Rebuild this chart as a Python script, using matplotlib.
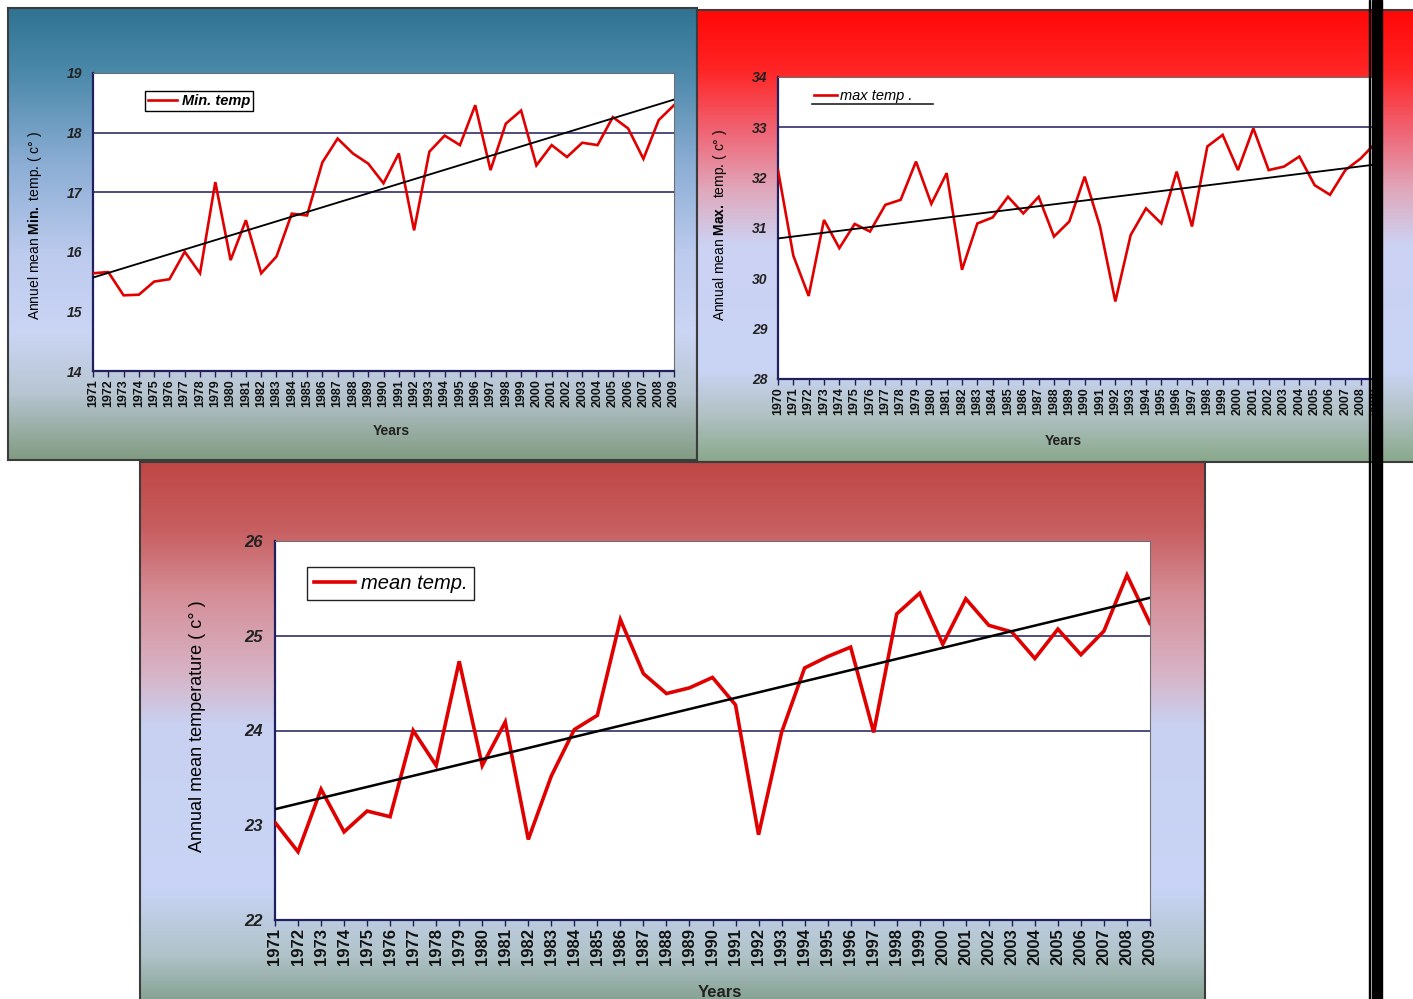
import numpy as np
import matplotlib.pyplot as plt
from matplotlib.colors import LinearSegmentedColormap
from matplotlib.patches import Rectangle

plt.rcParams['font.family'] = ['Liberation Sans', 'DejaVu Sans']
plt.rcParams['mathtext.fontset'] = 'custom'
plt.rcParams['mathtext.rm'] = 'Liberation Sans'
plt.rcParams['mathtext.bf'] = 'Liberation Sans:bold'

W, H = 1413, 999

# annual mean minimum temperature
years_min = np.arange(1971, 2010)
min_temp = [15.64, 15.66, 15.27, 15.28, 15.50, 15.54, 16.00, 15.64, 17.17, 15.86,
            16.53, 15.64, 15.92, 16.64, 16.61, 17.50, 17.90, 17.65, 17.48, 17.15,
            17.65, 16.36, 17.68, 17.95, 17.79, 18.46, 17.37, 18.15, 18.37, 17.45,
            17.79, 17.59, 17.83, 17.79, 18.26, 18.07, 17.56, 18.21, 18.46]

# annual mean maximum temperature
years_max = np.arange(1970, 2010)
max_temp = [32.15, 30.45, 29.65, 31.16, 30.60, 31.08, 30.93, 31.46, 31.56, 32.32,
            31.48, 32.09, 30.17, 31.09, 31.21, 31.62, 31.29, 31.62, 30.83, 31.13,
            32.02, 31.03, 29.54, 30.86, 31.39, 31.09, 32.12, 31.03, 32.62, 32.85,
            32.15, 32.98, 32.15, 32.22, 32.42, 31.85, 31.66, 32.15, 32.38, 32.70]

# annual mean temperature
years_mean = np.arange(1971, 2010)
mean_temp = [23.03, 22.72, 23.38, 22.93, 23.15, 23.09, 24.00, 23.63, 24.73, 23.63,
             24.09, 22.85, 23.52, 24.01, 24.16, 25.17, 24.60, 24.39, 24.45, 24.56,
             24.27, 22.90, 23.98, 24.66, 24.78, 24.88, 23.98, 25.23, 25.45, 24.91,
             25.39, 25.11, 25.04, 24.76, 25.07, 24.80, 25.05, 25.64, 25.13]


def box(x0, y0, x1, y1):
    return [x0 / W, 1 - y1 / H, (x1 - x0) / W, (y1 - y0) / H]


def panel(fig, rect, stops):
    ax = fig.add_axes(box(*rect), zorder=0)
    cmap = LinearSegmentedColormap.from_list('bg', stops)
    grad = cmap(np.linspace(0, 1, 256))[:, None, :]
    ax.imshow(grad, aspect='auto', extent=(0, 1, 0, 1), interpolation='bilinear')
    ax.set_xticks([])
    ax.set_yticks([])
    for s in ax.spines.values():
        s.set_color('#3c3c3c')
        s.set_linewidth(1.5)
    return ax


def chart(fig, rect, years, temps, ylim, grid_vals, xlim, fs_x, fs_y, lw):
    ax = fig.add_axes(box(*rect), zorder=2)
    ax.set_facecolor('white')
    ax.plot(years, temps, color='#e00000', lw=lw, zorder=3, solid_joinstyle='miter')
    coef = np.polyfit(years, temps, 1)
    ax.plot(years, np.polyval(coef, years), color='black', lw=lw * 0.7, zorder=4)
    for g in grid_vals:
        ax.axhline(g, color='#1c1c5c', lw=1.1, zorder=2)
    ax.set_xlim(*xlim)
    ax.set_ylim(*ylim)
    ax.set_yticks(np.arange(ylim[0], ylim[1] + 1))
    ax.set_yticklabels([str(v) for v in np.arange(ylim[0], ylim[1] + 1)],
                       fontsize=fs_y, fontstyle='italic', fontweight='bold', color='#222222')
    ax.set_xticks(years)
    ax.set_xticklabels([str(y) for y in years], rotation=90, fontsize=fs_x,
                       fontweight='bold', color='#111111')
    ax.tick_params(axis='y', length=0, pad=fs_y * 0.75)
    ax.tick_params(axis='x', length=4, width=1, color='#202050', pad=2)
    ax.spines['left'].set_color('#202060')
    ax.spines['bottom'].set_color('#202060')
    ax.spines['left'].set_linewidth(1.6)
    ax.spines['bottom'].set_linewidth(1.6)
    ax.spines['top'].set_color('#707070')
    ax.spines['right'].set_color('#707070')
    return ax


fig = plt.figure(figsize=(W / 100, H / 100), dpi=100)

# panel backgrounds
panel(fig, (8, 8, 697, 460),
      [(0.0, '#2f7391'), (0.15, '#4d8aab'), (0.35, '#8daed5'), (0.55, '#bdcbee'),
       (0.72, '#cbd5f4'), (0.85, '#b8c6d2'), (1.0, '#819b82')])
panel(fig, (697, 10, 1440, 462),
      [(0.0, '#ff0808'), (0.13, '#ff2424'), (0.27, '#ef6676'), (0.4, '#e0a9bd'),
       (0.52, '#ccd2f3'), (0.8, '#c9d4f4'), (0.9, '#b0c1c2'), (1.0, '#89a88b')])
panel(fig, (140, 462, 1205, 1010),
      [(0.0, '#bf4745'), (0.12, '#c75e60'), (0.25, '#d5909a'), (0.38, '#d8b2c4'),
       (0.48, '#c9d1f1'), (0.78, '#c8d4f6'), (0.9, '#b0c3c9'), (1.0, '#7e9c88')])

# minimum temperature
ax1 = chart(fig, (93, 73, 674, 371), years_min, min_temp, (14, 19), [17, 18],
            (1971, 2009), 9, 10, 1.9)
ax1.set_ylabel(r'Annuel mean $\mathbf{Min.}$ temp. ( c° )', fontsize=10)
ax1.yaxis.set_label_coords(-0.084, 0.49)
ax1.set_xlabel('Years', fontsize=10, fontweight='bold', color='#222222')
ax1.xaxis.set_label_coords(0.513, -0.178)
leg = ax1.legend(['Min. temp'], loc='upper left', bbox_to_anchor=(0.09, 0.94),
                 borderaxespad=0, borderpad=0.2, handlelength=2.0, handletextpad=0.3,
                 fancybox=False, edgecolor='black', framealpha=1,
                 prop={'style': 'italic', 'weight': 'bold', 'size': 10.5})
leg.get_frame().set_linewidth(1.0)

# maximum temperature
ax2 = chart(fig, (778, 77, 1376, 379), years_max, max_temp, (28, 34), [33],
            (1970, 2009), 9, 10, 1.9)
ax2.set_ylabel(r'Annual mean $\mathbf{Max.}$ temp. ( c° )', fontsize=10)
ax2.yaxis.set_label_coords(-0.082, 0.51)
ax2.set_xlabel('Years', fontsize=10, fontweight='bold', color='#222222')
ax2.xaxis.set_label_coords(0.477, -0.182)
ax2.legend(['max temp .'], loc='upper left', bbox_to_anchor=(0.05, 0.98),
           borderaxespad=0, handlelength=1.6, handletextpad=0.2, frameon=False,
           prop={'style': 'italic', 'size': 10.5})
ax2.plot([0.057, 0.26], [0.912, 0.912], color='#222222', lw=1.2,
         transform=ax2.transAxes, zorder=5)

# mean temperature
ax3 = chart(fig, (275, 541, 1150, 920), years_mean, mean_temp, (22, 26), [24, 25],
            (1971, 2009), 12, 12, 2.6)
ax3.set_ylabel('Annual mean temperature ( c° )', fontsize=13)
ax3.yaxis.set_label_coords(-0.079, 0.512)
ax3.set_xlabel('Years', fontsize=12, fontweight='bold', color='#222222')
ax3.xaxis.set_label_coords(0.509, -0.171)
leg3 = ax3.legend(['mean temp.'], loc='upper left', bbox_to_anchor=(0.037, 0.931),
                  borderaxespad=0, borderpad=0.35, handlelength=2.0, handletextpad=0.3,
                  fancybox=False, edgecolor='#222222', framealpha=1,
                  prop={'style': 'italic', 'size': 14.5})
leg3.get_frame().set_linewidth(1.0)

# vertical divider on the right
fig.add_artist(Rectangle((1372 / W, 0), 10 / W, 1, transform=fig.transFigure,
                         color='black', zorder=10))
fig.add_artist(Rectangle((1369 / W, 0), 1.2 / W, 1, transform=fig.transFigure,
                         color='black', zorder=10))

fig.savefig('out.png', dpi=100)
